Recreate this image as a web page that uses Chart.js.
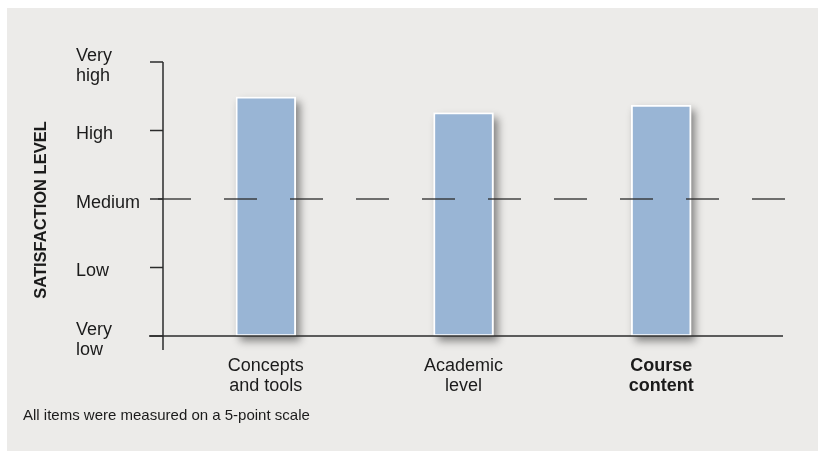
<!DOCTYPE html>
<html>
<head>
<meta charset="utf-8">
<script src="https://cdn.jsdelivr.net/npm/chart.js@4"></script>
<style>
  html, body { margin: 0; padding: 0; background: #ffffff; }
  #wrap { width: 818px; height: 451px; }
</style>
</head>
<body>
<div id="wrap"><canvas id="satChart" width="818" height="451"></canvas></div>
<script>
// chart data
const categories = [['Concepts', 'and tools'], ['Academic', 'level'], ['Course', 'content']];
const satisfaction = [4.49, 4.26, 4.37];
const levelLabels = [['Very', 'low'], 'Low', 'Medium', 'High', ['Very', 'high']];
const levelValues = [1, 2, 3, 4, 5];
const referenceLevel = 3;
const boldCategory = 2;
const axisTitle = 'SATISFACTION LEVEL';
const footnote = 'All items were measured on a 5-point scale';

const ink = '#1b1b1b';
const fontFamily = '"Liberation Sans", Arial, Helvetica, sans-serif';

// grey panel behind everything
const panelPlugin = {
  id: 'panel',
  beforeDraw(chart) {
    const ctx = chart.ctx;
    ctx.save();
    ctx.fillStyle = '#ecebe9';
    ctx.fillRect(7, 8, chart.width - 7, chart.height - 8);
    ctx.restore();
  }
};

// soft shadow under each bar (bar element clips its own drawing)
const shadowPlugin = {
  id: 'barShadow',
  beforeDatasetsDraw(chart) {
    const ctx = chart.ctx;
    const meta = chart.getDatasetMeta(0);
    ctx.save();
    ctx.shadowColor = 'rgba(0,0,0,0.45)';
    ctx.shadowBlur = 8;
    ctx.shadowOffsetX = 4;
    ctx.shadowOffsetY = 5;
    ctx.fillStyle = '#c8c8c8';
    meta.data.forEach(bar => {
      const { x, y, base, width } = bar.getProps(['x', 'y', 'base', 'width'], true);
      ctx.fillRect(x - width / 2, y, width, base - y);
    });
    ctx.restore();
  }
};

// axes, ticks, reference line, title and note
const axesPlugin = {
  id: 'axesLines',
  afterDatasetsDraw(chart) {
    const ctx = chart.ctx;
    const yScale = chart.scales.y;
    const area = chart.chartArea;
    const axisX = area.left - 4;
    const baseY = yScale.getPixelForValue(levelValues[0]);
    const topY = yScale.getPixelForValue(levelValues[levelValues.length - 1]);

    ctx.save();
    ctx.strokeStyle = '#2b2b2b';
    ctx.lineWidth = 1.5;

    // y axis
    ctx.beginPath();
    ctx.moveTo(axisX, topY);
    ctx.lineTo(axisX, baseY + 14);
    ctx.stroke();

    // tick marks
    levelValues.forEach(v => {
      const py = yScale.getPixelForValue(v);
      ctx.beginPath();
      ctx.moveTo(axisX - 13, py);
      ctx.lineTo(axisX, py);
      ctx.stroke();
    });

    // x axis
    ctx.beginPath();
    ctx.moveTo(axisX - 14, baseY);
    ctx.lineTo(area.right + 23, baseY);
    ctx.stroke();

    // dashed reference line at Medium
    const refY = yScale.getPixelForValue(referenceLevel);
    ctx.setLineDash([33, 33]);
    ctx.lineWidth = 1.3;
    ctx.beginPath();
    ctx.moveTo(axisX - 5, refY);
    ctx.lineTo(area.right + 25, refY);
    ctx.stroke();
    ctx.setLineDash([]);

    // axis title
    ctx.fillStyle = ink;
    ctx.font = 'bold 16.5px ' + fontFamily;
    ctx.textAlign = 'center';
    ctx.textBaseline = 'middle';
    ctx.translate(41, 210);
    ctx.rotate(-Math.PI / 2);
    ctx.fillText(axisTitle, 0, 0);
    ctx.setTransform(1, 0, 0, 1, 0, 0);

    // footnote
    ctx.font = '15px ' + fontFamily;
    ctx.textAlign = 'left';
    ctx.textBaseline = 'alphabetic';
    ctx.fillText(footnote, 23, 419.5);
    ctx.restore();
  }
};

const ctx = document.getElementById('satChart').getContext('2d');

new Chart(ctx, {
  type: 'bar',
  data: {
    labels: categories,
    datasets: [{
      data: satisfaction,
      base: levelValues[0],
      backgroundColor: '#99b5d5',
      borderColor: '#ffffff',
      borderWidth: 2,
      borderSkipped: false,
      barThickness: 60
    }]
  },
  options: {
    responsive: false,
    animation: false,
    devicePixelRatio: 1,
    layout: { padding: { left: 76, top: 62, right: 58, bottom: 0 } },
    scales: {
      x: {
        grid: { display: false, drawTicks: false },
        border: { display: false },
        ticks: {
          color: ink,
          padding: 20,
          maxRotation: 0,
          font: c => ({
            family: fontFamily,
            size: 18,
            lineHeight: 1.12,
            weight: c.index === boldCategory ? 'bold' : 'normal'
          })
        },
        afterFit: scale => { scale.height = 115; }
      },
      y: {
        min: 1,
        max: 5,
        grid: { display: false, drawTicks: false },
        border: { display: false },
        ticks: {
          stepSize: 1,
          color: ink,
          crossAlign: 'far',
          labelOffset: 4,
          font: { family: fontFamily, size: 18, lineHeight: 1.12 },
          callback: v => levelLabels[levelValues.indexOf(v)]
        },
        afterFit: scale => { scale.width = 91; }
      }
    },
    plugins: {
      legend: { display: false },
      tooltip: { enabled: false }
    }
  },
  plugins: [panelPlugin, shadowPlugin, axesPlugin]
});
</script>
</body>
</html>
